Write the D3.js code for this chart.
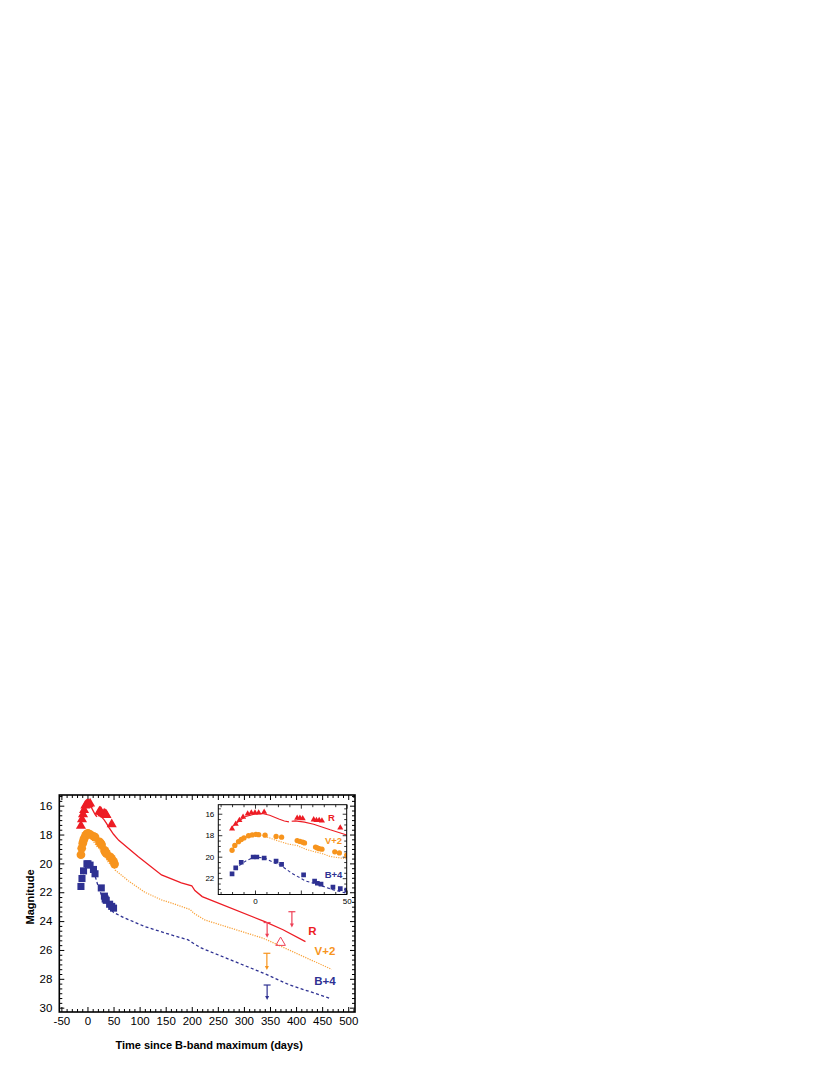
<!DOCTYPE html>
<html><head><meta charset="utf-8">
<script src="https://cdn.jsdelivr.net/npm/d3@7/dist/d3.min.js"></script>
<style>body{margin:0;background:#fff}text{font-family:"Liberation Sans",Arial,sans-serif}</style>
</head><body>
<svg id="c" width="830" height="1075"></svg>
<script>
// ---- observed photometry ----
const rDays = [-12.5, -10.5, -8.5, -6.5, -4, -2, 0, 2, 5, 23, 24.5, 26, 32, 33.5, 35, 36.5, 46.5];
const rMags = [17.4, 16.95, 16.6, 16.3, 16.0, 15.92, 15.9, 15.9, 15.85, 16.4, 16.4, 16.45, 16.55, 16.6, 16.6, 16.65, 17.3];
const vDays = [-12.5, -11, -9, -7.5, -6, -3.5, -1.5, 0.5, 2, 5.5, 11.5, 14.5, 23, 24.5, 26, 27, 33, 34, 35, 36.5, 43.5, 46, 50, 52];
const vMags = [19.4, 18.95, 18.6, 18.4, 18.25, 18.05, 17.97, 17.92, 17.95, 18.0, 18.12, 18.18, 18.5, 18.58, 18.65, 18.72, 19.1, 19.18, 19.25, 19.3, 19.55, 19.65, 19.85, 20.05];
const bDays = [-12.5, -10.5, -7.5, -1, 1, 5, 11.5, 14.5, 26.5, 32.5, 34, 36, 42.5, 46.5, 50];
const bMags = [21.6, 21.05, 20.52, 20.03, 20.03, 20.12, 20.42, 20.72, 21.7, 22.27, 22.47, 22.56, 22.83, 22.98, 23.1];
// ---- model light curves ----
const rModelDays = [-13, -8, -5, 0, 4, 8, 13, 16, 18.5, 19.3, 20, 22, 27, 32, 36.5, 41, 50, 60, 97, 142, 180, 200, 206, 220, 340, 375, 418];
const rModelMags = [17.3, 16.6, 16.25, 16.02, 15.98, 16.15, 16.5, 16.68, 16.76, null, 16.7, 16.67, 16.78, 16.98, 17.23, 17.5, 17.98, 18.4, 19.53, 20.8, 21.35, 21.55, 21.88, 22.3, 24.04, 24.6, 25.42];
const vModelDays = [-13, -10, -5, 0, 4, 11, 18.5, 23, 27.5, 32, 36.5, 41, 50, 53, 78, 110, 142, 162, 197, 204, 225, 337, 417, 468];
const vModelMags = [19.35, 18.85, 18.25, 18.02, 18.0, 18.45, 18.84, 18.96, 19.3, 19.52, 19.7, 19.98, 20.2, 20.46, 21.2, 22.0, 22.53, 22.76, 23.2, 23.46, 23.92, 25.19, 26.5, 27.34];
const bModelDays = [-11, -5, 0, 5.5, 11, 14, 20.2, 27.4, 33.8, 42.8, 50, 68.6, 110, 161, 193, 203, 219, 337, 388, 465];
const bModelMags = [21.1, 20.4, 20.02, 20.15, 20.6, 20.8, 21.55, 22.25, 22.56, 23.09, 23.4, 23.74, 24.38, 24.96, 25.3, 25.54, 25.88, 27.6, 28.43, 29.35];
// ---- late-time upper limits & detection ----
const limitBand = ["R", "R", "V", "B"];
const limitDay = [344.5, 392, 344, 344.5];
const limitTop = [24.1, 23.35, 26.23, 28.43];
const limitTip = [25.15, 24.45, 27.39, 29.47];
const detectDay = [370.3];
const detectMag = [25.49];
// ---- labels / ticks ----
const bandNames = ["R", "V+2", "B+4"];
const xTickLabels = [-50, 0, 50, 100, 150, 200, 250, 300, 350, 400, 450, 500];
const yTickLabels = [16, 18, 20, 22, 24, 26, 28, 30];
const insetXTickLabels = [0, 50];
const insetYTickLabels = [16, 18, 20, 22];

const col = {R: "#ed1c24", V: "#f7941d", B: "#2e3192"};
const lineCol = {R: "#ed1c24", V: "#f9a33c", B: "#2e3192"};
const zipP = (a, b) => a.map((d, i) => [d, b[i]]);
const plain = d => String(d);

const svg = d3.select("#c");

// ---------- main plot ----------
const M = {l: 59.3, r: 355, t: 795, b: 1012};
const x = d3.scaleLinear().domain([-54, 513]).range([M.l, M.r]);
const y = d3.scaleLinear().domain([15.26, 30.3]).range([M.t, M.b]);

function ticks(g, scaleX, scaleY, box, opt) {
  const mk = (gen, tx, ty) => g.append("g").attr("transform", `translate(${tx},${ty})`).call(gen).call(s => s.select(".domain").remove());
  const xb = d3.axisBottom(scaleX).tickValues(opt.xMajor).tickSize(-opt.maj).tickPadding(opt.pad).tickFormat(opt.xFmt);
  const xbm = d3.axisBottom(scaleX).tickValues(opt.xMinor).tickSize(-opt.min).tickFormat("");
  const xt = d3.axisTop(scaleX).tickValues(opt.xMajor).tickSize(-opt.maj).tickFormat("");
  const xtm = d3.axisTop(scaleX).tickValues(opt.xMinor).tickSize(-opt.min).tickFormat("");
  const yl = d3.axisLeft(scaleY).tickValues(opt.yMajor).tickSize(-opt.maj).tickPadding(opt.padY).tickFormat(opt.yFmt);
  const ylm = d3.axisLeft(scaleY).tickValues(opt.yMinor).tickSize(-opt.min).tickFormat("");
  const yr = d3.axisRight(scaleY).tickValues(opt.yMajor).tickSize(-opt.maj).tickFormat("");
  const yrm = d3.axisRight(scaleY).tickValues(opt.yMinor).tickSize(-opt.min).tickFormat("");
  [mk(xb, 0, box.b), mk(xbm, 0, box.b), mk(xt, 0, box.t), mk(xtm, 0, box.t),
   mk(yl, box.l, 0), mk(ylm, box.l, 0), mk(yr, box.r, 0), mk(yrm, box.r, 0)].forEach(s => {
    s.selectAll("line").attr("stroke", "#000").attr("stroke-width", opt.tw);
    s.selectAll("text").attr("fill", "#000").style("font-size", opt.fs + "px").style("font-family", '"Liberation Sans",Arial,sans-serif');
  });
}

const main = svg.append("g");
ticks(main, x, y, M, {
  xMajor: xTickLabels, xMinor: d3.range(-50, 511, 10).filter(v => v % 50 !== 0),
  yMajor: yTickLabels, yMinor: d3.range(46, 91).map(v => v / 3).filter(v => v > 15.26 && v < 30.3 && Math.abs(v - Math.round(v / 2) * 2) > 1e-6),
  maj: 5, min: 3, pad: 5, padY: 7, fs: 11.5, tw: 1,
  xFmt: plain, yFmt: plain
});

const line = (sx, sy) => d3.line().defined(d => d[1] != null).x(d => sx(d[0])).y(d => sy(d[1]));
const drawModels = (g, sx, sy, w) => {
  g.append("path").datum(zipP(rModelDays, rModelMags)).attr("d", line(sx, sy)).attr("fill", "none")
    .attr("stroke", lineCol.R).attr("stroke-width", w);
  g.append("path").datum(zipP(vModelDays, vModelMags)).attr("d", line(sx, sy)).attr("fill", "none")
    .attr("stroke", lineCol.V).attr("stroke-width", w).attr("stroke-dasharray", "1.2,1.2");
  g.append("path").datum(zipP(bModelDays, bModelMags)).attr("d", line(sx, sy)).attr("fill", "none")
    .attr("stroke", lineCol.B).attr("stroke-width", w).attr("stroke-dasharray", "3,2.4");
};
const drawPoints = (g, sx, sy, sz) => {
  g.selectAll(null).data(zipP(bDays, bMags)).join("path")
    .attr("transform", d => `translate(${sx(d[0])},${sy(d[1])})`)
    .attr("d", d3.symbol(d3.symbolSquare, sz.sq)).attr("fill", col.B);
  g.selectAll(null).data(zipP(vDays, vMags)).join("path")
    .attr("transform", d => `translate(${sx(d[0])},${sy(d[1])})`)
    .attr("d", d3.symbol(d3.symbolCircle, sz.ci)).attr("fill", col.V);
  g.selectAll(null).data(zipP(rDays, rMags)).join("path")
    .attr("transform", d => `translate(${sx(d[0])},${sy(d[1])})`)
    .attr("d", d3.symbol(d3.symbolTriangle, sz.tr)).attr("fill", col.R);
};

const plotG = main.append("g");
drawModels(plotG, x, y, 1.3);
drawPoints(plotG, x, y, {sq: 50, ci: 60, tr: 44});

// upper limits
const limCol = {R: "#ee4056", V: "#f7941d", B: "#2e3192"};
limitBand.forEach((b, i) => {
  const cx = x(limitDay[i]), y0 = y(limitTop[i]), y1 = y(limitTip[i]);
  const c = limCol[b];
  plotG.append("line").attr("x1", cx - 3.5).attr("x2", cx + 3.5).attr("y1", y0).attr("y2", y0).attr("stroke", c).attr("stroke-width", 1.2);
  plotG.append("line").attr("x1", cx).attr("x2", cx).attr("y1", y0).attr("y2", y1 - 2).attr("stroke", c).attr("stroke-width", 1.2);
  plotG.append("path").attr("d", `M${cx - 2},${y1 - 4}L${cx + 2},${y1 - 4}L${cx},${y1}Z`).attr("fill", c);
});
plotG.selectAll(null).data(zipP(detectDay, detectMag)).join("path")
  .attr("transform", d => `translate(${x(d[0])},${y(d[1])})`)
  .attr("d", d3.symbol(d3.symbolTriangle, 40)).attr("fill", "none").attr("stroke", "#ee4056").attr("stroke-width", 1);

// band labels
const mainLabelPos = [[312.5, 935], [325, 955], [325, 985]];
const bandCols = [col.R, col.V, col.B];
bandNames.forEach((n, i) => {
  main.append("text").attr("x", mainLabelPos[i][0]).attr("y", mainLabelPos[i][1]).attr("text-anchor", "middle")
    .attr("fill", bandCols[i]).style("font-size", "11.5px").style("font-weight", "bold").text(n);
});

main.append("rect").attr("x", M.l).attr("y", M.t).attr("width", M.r - M.l).attr("height", M.b - M.t)
  .attr("fill", "none").attr("stroke", "#000").attr("stroke-width", 1.6);

main.append("text").attr("x", (M.l + M.r) / 2 + 2).attr("y", 1049).attr("text-anchor", "middle")
  .style("font-size", "11px").style("font-weight", "bold").text("Time since B-band maximum (days)");
main.append("text").attr("transform", "translate(34,897) rotate(-90)").attr("text-anchor", "middle")
  .style("font-size", "11px").style("font-weight", "bold").text("Magnitude");

// ---------- inset ----------
const I = {l: 218.3, r: 346.7, t: 804.7, b: 894.5};
const xi = d3.scaleLinear().domain([-20, 50]).range([I.l, I.r]);
const yi = d3.scaleLinear().domain([15.16, 23.52]).range([I.t, I.b]);
const ins = svg.append("g");
ins.append("rect").attr("x", I.l).attr("y", I.t).attr("width", I.r - I.l).attr("height", I.b - I.t).attr("fill", "#fff");
svg.append("clipPath").attr("id", "ic").append("rect").attr("x", I.l).attr("y", I.t).attr("width", I.r - I.l).attr("height", I.b - I.t);
ticks(ins, xi, yi, I, {
  xMajor: [0, 25, 50], xMinor: d3.range(-18.75, 50, 6.25).filter(v => v % 25 !== 0),
  yMajor: insetYTickLabels, yMinor: d3.range(15.5, 23.5, 0.5).filter(v => v % 2 !== 0),
  maj: 4, min: 2.5, pad: 4, padY: 4, fs: 8, tw: 0.8,
  xFmt: d => insetXTickLabels.includes(d) ? String(d) : "", yFmt: plain
});
const insG = ins.append("g").attr("clip-path", "url(#ic)");
drawModels(insG, xi, yi, 1.1);
drawPoints(insG, xi, yi, {sq: 22, ci: 22, tr: 16});
const insLabelPos = [[331.5, 820.5], [333.5, 844], [333.5, 877.5]];
bandNames.forEach((n, i) => {
  ins.append("text").attr("x", insLabelPos[i][0]).attr("y", insLabelPos[i][1]).attr("text-anchor", "middle")
    .attr("fill", bandCols[i]).style("font-size", "9.5px").style("font-weight", "bold").text(n);
});
ins.append("rect").attr("x", I.l).attr("y", I.t).attr("width", I.r - I.l).attr("height", I.b - I.t)
  .attr("fill", "none").attr("stroke", "#000").attr("stroke-width", 1);
</script>
</body></html>
